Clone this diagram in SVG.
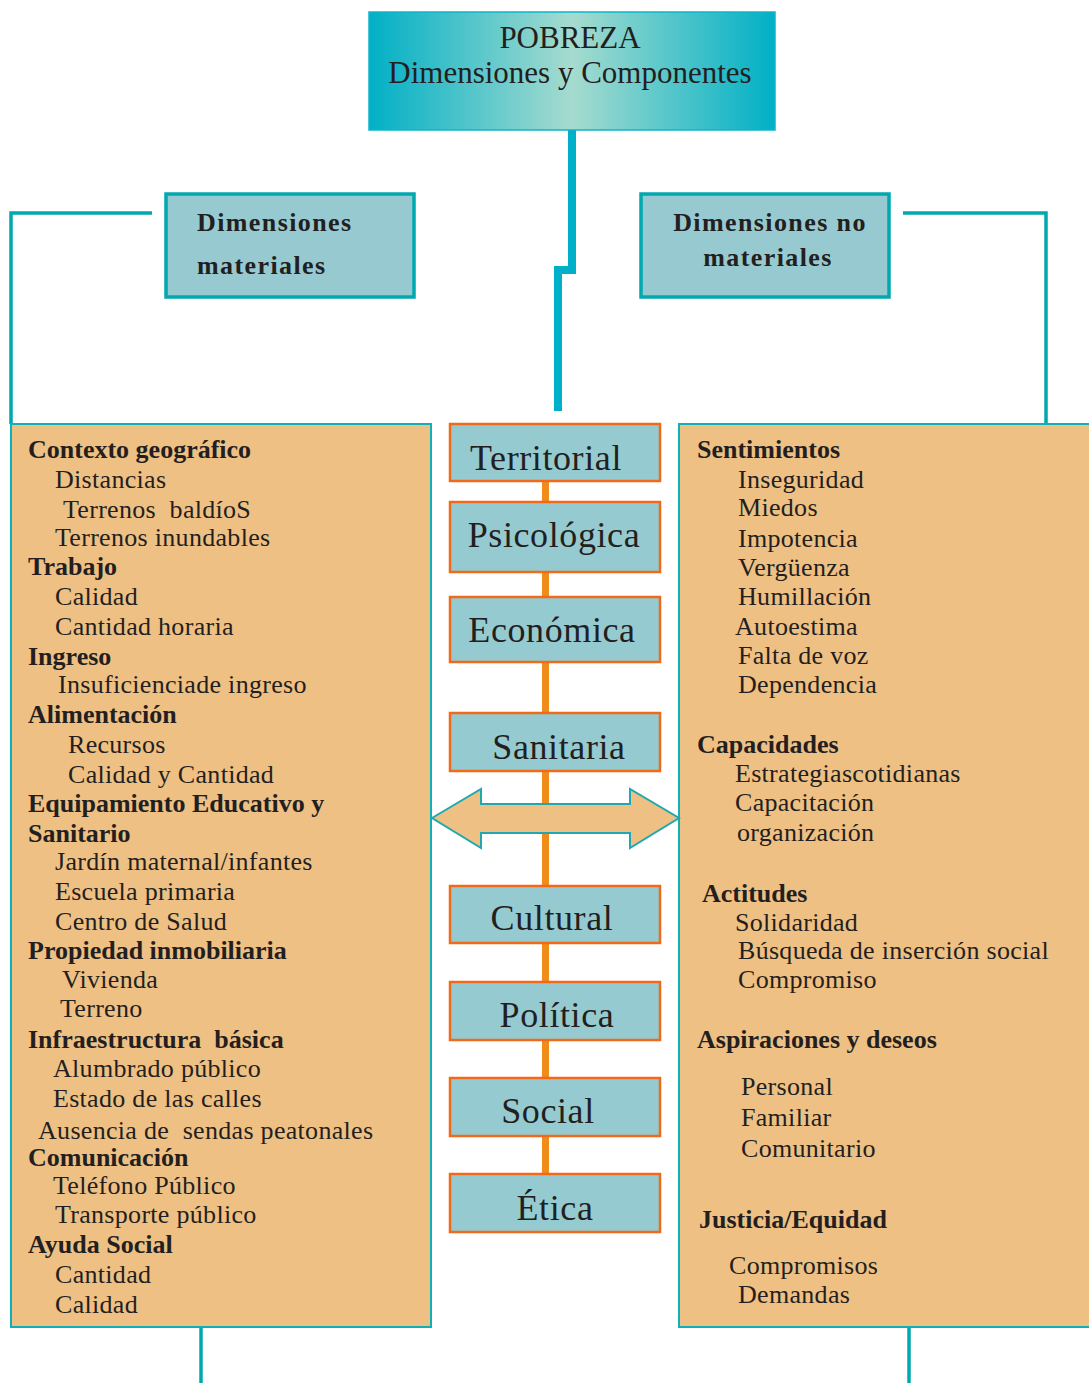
<svg xmlns="http://www.w3.org/2000/svg" width="1089" height="1383" viewBox="0 0 1089 1383">
<defs>
<linearGradient id="topg" x1="0" y1="0" x2="1" y2="0">
<stop offset="0" stop-color="#00b0c6"/>
<stop offset="0.5" stop-color="#a6dbcf"/>
<stop offset="1" stop-color="#00b0c6"/>
</linearGradient>
<style>
text{font-family:"Liberation Serif","Times New Roman",serif;fill:#231f20;white-space:pre}
.t{font-size:31px}
.dh{font-size:26px;font-weight:bold;letter-spacing:1.4px}
.it{font-size:26px;letter-spacing:0.3px}
.hd{font-size:26px;font-weight:bold}
.c{font-size:36px;text-anchor:middle;letter-spacing:0.6px}
.cb{fill:#95cbd0;stroke:#f06a1a;stroke-width:2.5}
.db{fill:#96cad0;stroke:#00a8b0;stroke-width:3.5}
.big{fill:#efc083;stroke:#10b0b8;stroke-width:2}
.tl{fill:none;stroke:#00a8b0;stroke-width:3.5}
</style>
</defs>
<rect width="1089" height="1383" fill="#ffffff"/>

<g id="connectors">
<polyline points="572,130 572,270 558,270 558,411" fill="none" stroke="#00b0c8" stroke-width="8"/>
<polyline class="tl" points="152,213 11,213 11,424"/>
<polyline class="tl" points="903,213 1046,213 1046,424"/>
<line x1="545.5" y1="481" x2="545.5" y2="1174" stroke="#f08c1a" stroke-width="7"/>
<line x1="201" y1="1327" x2="201" y2="1383" stroke="#00a8b0" stroke-width="3.5"/>
<line x1="909" y1="1327" x2="909" y2="1383" stroke="#00a8b0" stroke-width="3.5"/>
</g>

<g id="pobreza">
<rect x="369" y="12" width="406" height="118" fill="url(#topg)" stroke="#10b4c8" stroke-width="1.5"/>
<text class="t" x="570" y="48" text-anchor="middle">POBREZA</text>
<text class="t" x="570" y="83" text-anchor="middle">Dimensiones y Componentes</text>
</g>

<g id="dim-materiales">
<rect class="db" x="166" y="194" width="248" height="103"/>
<text class="dh" x="197" y="231">Dimensiones</text>
<text class="dh" x="197" y="274">materiales</text>
</g>

<g id="dim-no-materiales">
<rect class="db" x="641" y="194" width="248" height="103"/>
<text class="dh" x="770" y="231" text-anchor="middle">Dimensiones no</text>
<text class="dh" x="768" y="266" text-anchor="middle">materiales</text>
</g>

<g id="materiales-list">
<rect class="big" x="11" y="424" width="420" height="903"/>
<text class="hd" x="28" y="458">Contexto geográfico</text>
<text class="it" x="55" y="488">Distancias</text>
<text class="it" x="63" y="518">Terrenos  baldíoS</text>
<text class="it" x="55" y="546">Terrenos inundables</text>
<text class="hd" x="28" y="575">Trabajo</text>
<text class="it" x="55" y="605">Calidad</text>
<text class="it" x="55" y="635">Cantidad horaria</text>
<text class="hd" x="28" y="665">Ingreso</text>
<text class="it" x="58" y="693">Insuficienciade ingreso</text>
<text class="hd" x="28" y="723">Alimentación</text>
<text class="it" x="68" y="753">Recursos</text>
<text class="it" x="68" y="783">Calidad y Cantidad</text>
<text class="hd" x="28" y="812">Equipamiento Educativo y</text>
<text class="hd" x="28" y="842">Sanitario</text>
<text class="it" x="55" y="870">Jardín maternal/infantes</text>
<text class="it" x="55" y="900">Escuela primaria</text>
<text class="it" x="55" y="930">Centro de Salud</text>
<text class="hd" x="28" y="959">Propiedad inmobiliaria</text>
<text class="it" x="62" y="988">Vivienda</text>
<text class="it" x="60" y="1017">Terreno</text>
<text class="hd" x="28" y="1048">Infraestructura  básica</text>
<text class="it" x="53" y="1077">Alumbrado público</text>
<text class="it" x="53" y="1107">Estado de las calles</text>
<text class="it" x="38" y="1139">Ausencia de  sendas peatonales</text>
<text class="hd" x="28" y="1166">Comunicación</text>
<text class="it" x="53" y="1194">Teléfono Público</text>
<text class="it" x="55" y="1223">Transporte público</text>
<text class="hd" x="28" y="1253">Ayuda Social</text>
<text class="it" x="55" y="1283">Cantidad</text>
<text class="it" x="55" y="1313">Calidad</text>
</g>

<g id="no-materiales-list">
<rect class="big" x="679" y="424" width="420" height="903"/>
<text class="hd" x="697" y="458">Sentimientos</text>
<text class="it" x="738" y="488">Inseguridad</text>
<text class="it" x="738" y="516">Miedos</text>
<text class="it" x="738" y="547">Impotencia</text>
<text class="it" x="738" y="576">Vergüenza</text>
<text class="it" x="738" y="605">Humillación</text>
<text class="it" x="735" y="635">Autoestima</text>
<text class="it" x="738" y="664">Falta de voz</text>
<text class="it" x="738" y="693">Dependencia</text>
<text class="hd" x="697" y="753">Capacidades</text>
<text class="it" x="735" y="782">Estrategiascotidianas</text>
<text class="it" x="735" y="811">Capacitación</text>
<text class="it" x="737" y="841">organización</text>
<text class="hd" x="702" y="902">Actitudes</text>
<text class="it" x="735" y="931">Solidaridad</text>
<text class="it" x="738" y="959">Búsqueda de inserción social</text>
<text class="it" x="738" y="988">Compromiso</text>
<text class="hd" x="697" y="1048">Aspiraciones y deseos</text>
<text class="it" x="741" y="1095">Personal</text>
<text class="it" x="741" y="1126">Familiar</text>
<text class="it" x="741" y="1157">Comunitario</text>
<text class="hd" x="699" y="1228">Justicia/Equidad</text>
<text class="it" x="729" y="1274">Compromisos</text>
<text class="it" x="738" y="1303">Demandas</text>
</g>

<g id="territorial"><rect class="cb" x="450" y="424" width="210" height="57"/><text class="c" x="546" y="470">Territorial</text></g>
<g id="psicologica"><rect class="cb" x="450" y="502" width="210" height="70"/><text class="c" x="554" y="547">Psicológica</text></g>
<g id="economica"><rect class="cb" x="450" y="597" width="210" height="65"/><text class="c" x="552" y="642">Económica</text></g>
<g id="sanitaria"><rect class="cb" x="450" y="713" width="210" height="58"/><text class="c" x="559" y="759">Sanitaria</text></g>
<g id="cultural"><rect class="cb" x="450" y="886" width="210" height="57"/><text class="c" x="552" y="930">Cultural</text></g>
<g id="politica"><rect class="cb" x="450" y="982" width="210" height="58"/><text class="c" x="557" y="1027">Política</text></g>
<g id="social"><rect class="cb" x="450" y="1078" width="210" height="58"/><text class="c" x="548" y="1123">Social</text></g>
<g id="etica"><rect class="cb" x="450" y="1174" width="210" height="58"/><text class="c" x="555" y="1220">Ética</text></g>

<g id="double-arrow">
<polygon points="432,818 481,789 481,804 630,804 630,789 679,818 630,848 630,833 481,833 481,848" fill="#efc083" stroke="#20a8b0" stroke-width="2" stroke-linejoin="miter"/>
</g>
</svg>
